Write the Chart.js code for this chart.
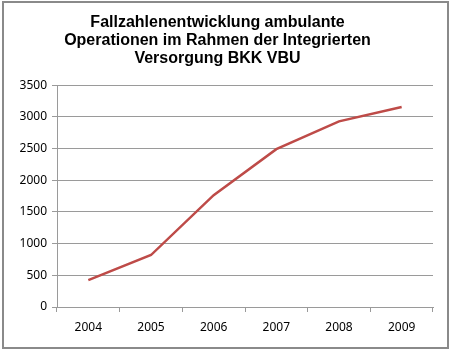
<!DOCTYPE html>
<html>
<head>
<meta charset="utf-8">
<script src="https://cdn.jsdelivr.net/npm/chart.js@4"></script>
<style>
    html, body { margin: 0; padding: 0; background: #fff; }
    #wrap { position: relative; width: 451px; height: 351px; }
</style>
</head>
<body>
<div id="wrap"><canvas id="fallChart" width="451" height="351"></canvas></div>
<script>
// Daten
const years = ['2004', '2005', '2006', '2007', '2008', '2009'];
const cases = [425, 820, 1765, 2490, 2930, 3155];
const titleLines = [
    'Fallzahlenentwicklung ambulante',
    'Operationen im Rahmen der Integrierten',
    'Versorgung BKK VBU'
];

// Rahmen um das ganze Diagramm
const frame = {
    id: 'frame',
    afterDraw(chart) {
        const c = chart.ctx;
        c.save();
        c.strokeStyle = '#8a8a8a';
        c.lineWidth = 2;
        c.strokeRect(3, 2, 445, 346);
        c.restore();
    }
};

new Chart(document.getElementById('fallChart'), {
    type: 'line',
    data: {
        labels: years,
        datasets: [{
            data: cases,
            borderColor: '#BE4B48',
            borderWidth: 2.5,
            pointRadius: 0,
            tension: 0,
            fill: false
        }]
    },
    options: {
        responsive: false,
        animation: false,
        layout: { padding: { left: 2, right: 18, top: 13, bottom: 0 } },
        plugins: {
            legend: { display: false },
            tooltip: { enabled: false },
            title: {
                display: true,
                text: titleLines,
                color: '#000',
                font: { family: 'Liberation Sans', size: 16, weight: 'bold', lineHeight: 1.15 },
                padding: { top: 0, bottom: 17 }
            }
        },
        scales: {
            y: {
                min: 0,
                max: 3500,
                ticks: {
                    stepSize: 500,
                    color: '#000',
                    font: { family: 'Noto Sans', size: 12 },
                    padding: 5,
                    callback: (v) => String(v)
                },
                grid: { color: '#9a9a9a', tickLength: 5, tickColor: '#9a9a9a' },
                border: { color: '#9a9a9a' },
                afterFit(scale) { scale.width = 55; }
            },
            x: {
                offset: true,
                ticks: {
                    color: '#000',
                    font: { family: 'Noto Sans', size: 12 },
                    padding: 8
                },
                grid: {
                    offset: true,
                    drawOnChartArea: false,
                    tickLength: 5,
                    color: '#9a9a9a'
                },
                border: { color: '#9a9a9a' },
                afterFit(scale) { scale.height = 44; }
            }
        }
    },
    plugins: [frame]
});
</script>
</body>
</html>
